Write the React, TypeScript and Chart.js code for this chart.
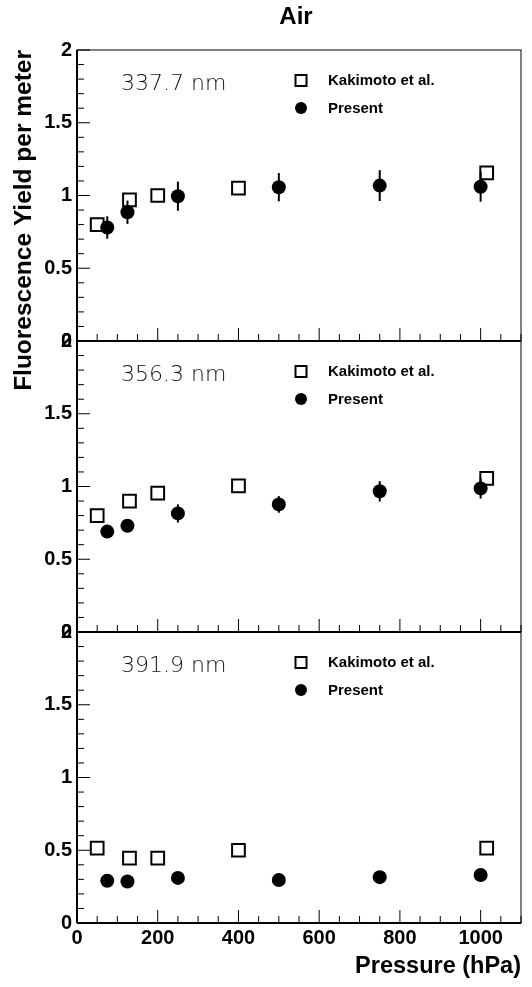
import React, { useEffect, useRef } from 'react';
import { Chart, registerables } from 'chart.js';
Chart.register(...registerables);

// ---- data ----
const kakimotoPressure = [50, 130, 200, 400, 1015];
const presentPressure = [75, 125, 250, 500, 750, 1000];

const wavelengthLabels = ['337.7 nm', '356.3 nm', '391.9 nm'];

const kakimoto337 = [0.8, 0.97, 1.0, 1.05, 1.155];
const present337 = [0.78, 0.885, 0.995, 1.057, 1.068, 1.06];
const presentErr337 = [0.077, 0.08, 0.1, 0.097, 0.106, 0.103];

const kakimoto356 = [0.8, 0.9, 0.955, 1.005, 1.056];
const present356 = [0.69, 0.73, 0.815, 0.877, 0.967, 0.987];
const presentErr356 = [0.03, 0.03, 0.062, 0.057, 0.07, 0.07];

const kakimoto391 = [0.515, 0.446, 0.446, 0.5, 0.515];
const present391 = [0.29, 0.285, 0.31, 0.296, 0.315, 0.33];
const presentErr391 = [0.03, 0.03, 0.03, 0.03, 0.03, 0.03];

const yTickValues = [0, 0.5, 1, 1.5, 2];
const xTickValues = [0, 200, 400, 600, 800, 1000];

const titleText = 'Air';
const yTitleText = 'Fluorescence Yield per meter';
const xTitleText = 'Pressure (hPa)';
const legendKakimoto = 'Kakimoto et al.';
const legendPresent = 'Present';

const panels = [
  { axis: 'yTop', weight: 3, label: wavelengthLabels[0], kak: kakimoto337, pres: present337, err: presentErr337 },
  { axis: 'yMid', weight: 2, label: wavelengthLabels[1], kak: kakimoto356, pres: present356, err: presentErr356 },
  { axis: 'yBot', weight: 1, label: wavelengthLabels[2], kak: kakimoto391, pres: present391, err: presentErr391 },
];

const BOLD = 'Liberation Sans, Arial, Helvetica, sans-serif';

function line(ctx: CanvasRenderingContext2D, x1: number, y1: number, x2: number, y2: number) {
  ctx.beginPath();
  ctx.moveTo(x1, y1);
  ctx.lineTo(x2, y2);
  ctx.stroke();
}

const decorPlugin = {
  id: 'decor',
  beforeDatasetsDraw(chart: any) {
    const ctx: CanvasRenderingContext2D = chart.ctx;
    const xs = chart.scales.x;
    ctx.save();
    ctx.strokeStyle = '#000';
    ctx.lineWidth = 2;
    chart.data.datasets.forEach((ds: any) => {
      if (!ds.errors) return;
      const ys = chart.scales[ds.yAxisID];
      ds.data.forEach((pt: any, i: number) => {
        const e = ds.errors[i];
        const px = xs.getPixelForValue(pt.x);
        line(ctx, px, ys.getPixelForValue(pt.y - e), px, ys.getPixelForValue(pt.y + e));
      });
    });
    ctx.restore();
  },
  afterDraw(chart: any) {
    const ctx: CanvasRenderingContext2D = chart.ctx;
    const a = chart.chartArea;
    const xs = chart.scales.x;
    ctx.save();
    ctx.strokeStyle = '#000';
    ctx.fillStyle = '#000';
    // frame
    ctx.lineWidth = 1;
    ctx.strokeRect(a.left, a.top, a.right - a.left, a.bottom - a.top);

    panels.forEach((p) => {
      const ys = chart.scales[p.axis];
      const y0 = ys.getPixelForValue(0);
      ctx.lineWidth = 2;
      line(ctx, a.left, y0, a.right, y0);
      ctx.lineWidth = 1;
      for (let v = 0; v <= xs.max; v += 50) {
        const len = v % 200 === 0 ? 13 : 7;
        const px = xs.getPixelForValue(v);
        line(ctx, px, y0, px, y0 - len);
      }
      for (let k = 0; k <= 20; k++) {
        const len = k % 5 === 0 ? 13 : 7;
        const py = ys.getPixelForValue(k / 10);
        line(ctx, a.left, py, a.left + len, py);
      }
      // panel label
      ctx.font = '200 22px "DejaVu Sans"';
      ctx.fillStyle = '#111';
      ctx.textAlign = 'left';
      ctx.textBaseline = 'middle';
      ctx.fillText(p.label, 121, ys.top + 34);
      // legend
      ctx.fillStyle = '#000';
      ctx.lineWidth = 2;
      ctx.strokeRect(295.5, ys.top + 25, 11, 11);
      ctx.beginPath();
      ctx.arc(301, ys.top + 58, 6, 0, Math.PI * 2);
      ctx.fill();
      ctx.font = `bold 15px ${BOLD}`;
      ctx.fillText(legendKakimoto, 328, ys.top + 31);
      ctx.fillText(legendPresent, 328, ys.top + 58.5);
    });
    // left axis
    ctx.lineWidth = 2;
    line(ctx, a.left, a.top, a.left, a.bottom);

    // title
    ctx.fillStyle = '#000';
    ctx.font = `bold 24px ${BOLD}`;
    ctx.textAlign = 'center';
    ctx.textBaseline = 'middle';
    ctx.fillText(titleText, 296, 17);

    // y title
    ctx.save();
    ctx.translate(24, 50);
    ctx.rotate(-Math.PI / 2);
    ctx.textAlign = 'right';
    ctx.textBaseline = 'middle';
    ctx.font = `bold 24.5px ${BOLD}`;
    ctx.fillText(yTitleText, 0, 0);
    ctx.restore();

    ctx.restore();
  },
};

function makeYScale(weight: number) {
  return {
    type: 'linear',
    position: 'left',
    stack: 'panels',
    stackWeight: 1,
    weight,
    min: 0,
    max: 2,
    afterBuildTicks: (s: any) => {
      s.ticks = yTickValues.map((v) => ({ value: v }));
    },
    afterFit: (s: any) => {
      s.width = 77;
    },
    ticks: {
      color: '#000',
      font: { family: BOLD, size: 20, weight: 'bold' },
      padding: 5,
      autoSkip: false,
      callback: (v: any) => String(v),
    },
    grid: { display: false, drawTicks: false },
    border: { display: false },
  };
}

export default function App() {
  const ref = useRef<HTMLCanvasElement | null>(null);
  useEffect(() => {
    if (!ref.current) return;
    const datasets: any[] = [];
    panels.forEach((p) => {
      datasets.push({
        label: legendPresent,
        yAxisID: p.axis,
        xAxisID: 'x',
        data: presentPressure.map((x, i) => ({ x, y: p.pres[i] })),
        errors: p.err,
        pointStyle: 'circle',
        pointRadius: 7,
        pointBackgroundColor: '#000',
        pointBorderColor: '#000',
        pointBorderWidth: 0,
        showLine: false,
        order: 0,
      });
      datasets.push({
        label: legendKakimoto,
        yAxisID: p.axis,
        xAxisID: 'x',
        data: kakimotoPressure.map((x, i) => ({ x, y: p.kak[i] })),
        pointStyle: 'rect',
        pointRadius: 9,
        pointBackgroundColor: 'rgba(0,0,0,0)',
        pointBorderColor: '#000',
        pointBorderWidth: 2,
        showLine: false,
        order: 1,
      });
    });
    const scales: any = {
      x: {
        type: 'linear',
        position: 'bottom',
        min: 0,
        max: 1100,
        afterBuildTicks: (s: any) => {
          s.ticks = xTickValues.map((v) => ({ value: v }));
        },
        afterFit: (s: any) => {
          s.height = 64;
        },
        ticks: {
          color: '#000',
          font: { family: BOLD, size: 20, weight: 'bold' },
          padding: 3,
          maxRotation: 0,
          autoSkip: false,
          callback: (v: any) => String(v),
        },
        grid: { display: false, drawTicks: false },
        border: { display: false },
        title: {
          display: true,
          text: xTitleText,
          align: 'end',
          color: '#000',
          font: { family: BOLD, size: 23.5, weight: 'bold' },
          padding: { top: 0, bottom: 6 },
        },
      },
    };
    panels.forEach((p) => {
      scales[p.axis] = makeYScale(p.weight);
    });
    const chart = new Chart(ref.current, {
      type: 'scatter',
      data: { datasets },
      options: {
        animation: false,
        responsive: false,
        devicePixelRatio: 1,
        layout: { padding: { top: 50, right: 7, left: 0, bottom: 0 } },
        plugins: { legend: { display: false }, title: { display: false }, tooltip: { enabled: false } },
        scales,
      } as any,
      plugins: [decorPlugin],
    });
    return () => chart.destroy();
  }, []);
  return (
    <div style={{ position: 'absolute', left: 0, top: 0, width: 532, height: 987, background: '#fff' }}>
      <canvas ref={ref} width={532} height={987} style={{ display: 'block' }} />
    </div>
  );
}
